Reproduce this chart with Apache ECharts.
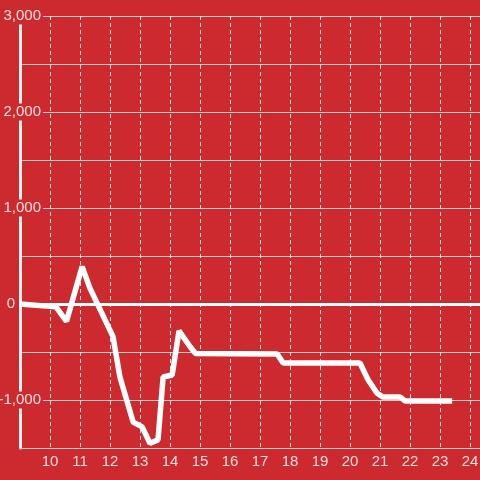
<!DOCTYPE html>
<html>
<head>
<meta charset="utf-8">
<script src="https://cdn.jsdelivr.net/npm/echarts@6/dist/echarts.min.js"></script>
<style>
  html, body { margin: 0; padding: 0; background: #cc2a2f; }
  #chart { width: 480px; height: 480px; }
</style>
</head>
<body>
<div id="chart"></div>
<script>
// values
const xValues = [9.0, 10.2, 10.55, 11.07, 11.33, 12.1, 12.33, 12.77, 13.07, 13.33, 13.6, 13.77, 14.07, 14.3, 14.67, 14.85, 17.57, 17.77, 20.33, 20.6, 20.9, 21.1, 21.67, 21.83, 23.4]
const yValues = [0, -30, -180, 390, 165, -340, -760, -1230, -1280, -1450, -1415, -760, -740, -280, -445, -515, -520, -615, -615, -790, -930, -970, -970, -1010, -1010]
const yMajor = [-1000, 0, 1000, 2000, 3000]

const bg = '#cc2a2f'
const textColor = 'rgba(255,255,255,0.85)'

const chart = echarts.init(document.getElementById('chart'))

chart.setOption({
  backgroundColor: bg,
  animation: false,
  grid: { left: 20, right: 0, top: 16, bottom: 32, containLabel: false, outerBoundsMode: 'none' },
  xAxis: {
    type: 'value',
    min: 9,
    max: 24.33,
    interval: 1,
    axisLine: { show: true, onZero: false, lineStyle: { color: '#cccccc', width: 1 } },
    axisTick: { show: false },
    axisLabel: {
      color: textColor,
      fontSize: 15,
      fontFamily: 'Liberation Sans, Arial, sans-serif',
      margin: 6,
      showMinLabel: false,
      showMaxLabel: false,
      formatter: v => (Number.isInteger(v) && v >= 10 ? String(v) : '')
    },
    splitLine: { show: true, lineStyle: { color: '#e6e6e6', width: 1, type: [4, 3] } }
  },
  yAxis: {
    type: 'value',
    min: -1500,
    max: 3000,
    interval: 500,
    axisLine: { show: true, lineStyle: { color: '#f2f2f2', width: 3 } },
    axisTick: { show: false },
    axisLabel: {
      color: textColor,
      fontSize: 15,
      fontFamily: 'Liberation Sans, Arial, sans-serif',
      align: 'right',
      verticalAlign: 'middle',
      margin: -23,
      formatter: v => {
        if (!yMajor.includes(v)) return ''
        if (v === 0) return '{zero|0}'
        return '{bg|' + v.toLocaleString('en-US') + '}'
      },
      rich: {
        bg: { backgroundColor: bg, padding: [1, 2, 1, 2], color: textColor, fontSize: 15 },
        zero: { padding: [0, 28, 0, 0], color: textColor, fontSize: 15 }
      }
    },
    splitLine: { show: true, lineStyle: { color: '#cccccc', width: 1 } }
  },
  series: [
    {
      type: 'line',
      data: xValues.map((x, i) => [x, yValues[i]]),
      symbol: 'none',
      lineStyle: { color: '#ffffff', width: 5.5 },
      markLine: {
        silent: true,
        symbol: 'none',
        label: { show: false },
        lineStyle: { color: '#ffffff', width: 3, type: 'solid' },
        data: [{ yAxis: 0 }]
      }
    }
  ]
})
</script>
</body>
</html>
